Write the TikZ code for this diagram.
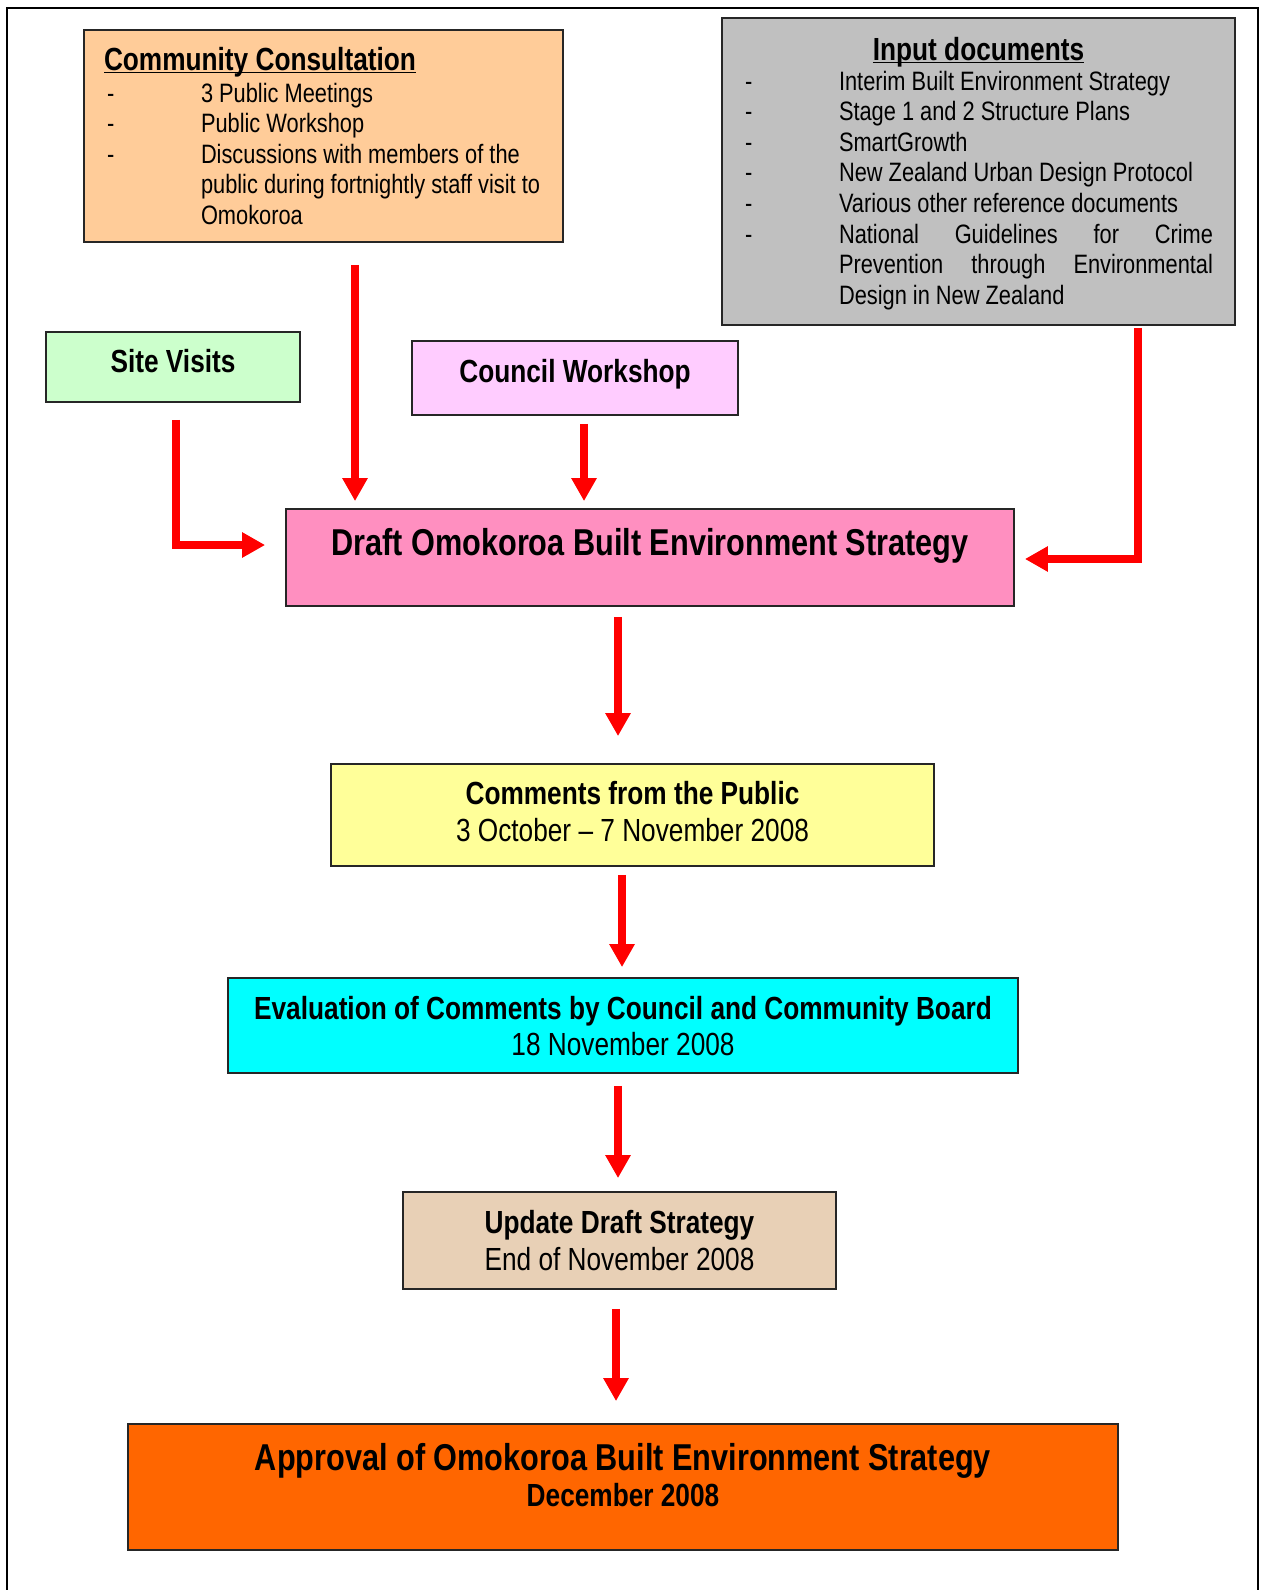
\documentclass[tikz,border=0pt]{standalone}
\usepackage{fontspec}
\setmainfont{Liberation Sans}[FakeStretch=0.82]
\usetikzlibrary{arrows.meta}

\definecolor{peach}{HTML}{FFCC99}
\definecolor{docgray}{HTML}{C0C0C0}
\definecolor{mint}{HTML}{CCFFCC}
\definecolor{lilac}{HTML}{FFCCFF}
\definecolor{rose}{HTML}{FF8FC0}
\definecolor{lemon}{HTML}{FFFF99}
\definecolor{aqua}{HTML}{00FFFF}
\definecolor{tan}{HTML}{E8D0B6}
\definecolor{orangebox}{HTML}{FF6600}

\newcommand{\ulhead}[1]{\underline{\smash{#1}}}
\newcommand{\dashitem}{\hspace*{11.5pt}\makebox[47pt][l]{-}}

\tikzset{
  box/.style={draw=black!85, line width=0.9pt, rectangle, inner sep=0pt},
  flow/.style={draw=red, line width=3.6pt, -{Triangle[width=12pt,length=11.5pt]}},
}

\begin{document}
\begin{tikzpicture}[x=0.5pt,y=-0.5pt]

  \useasboundingbox (0,0) rectangle (1262,1590);

  % page frame, open at the bottom
  \draw[line width=1pt] (7,1592) -- (7,8) -- (1258,8) -- (1258,1592);

  \node[box, fill=peach] (comm) at (323.5,136) {\parbox[c][106pt][t]{239.5pt}{\fontsize{13.3}{15.25}\selectfont
    \hspace*{10pt}\rule{0pt}{20pt}{\fontsize{16}{16}\bfseries\ulhead{Community Consultation}}\\[0.75pt]
    \dashitem 3 Public Meetings\\
    \dashitem Public Workshop\\
    \dashitem Discussions with members of the\\
    \hspace*{58.5pt}public during fortnightly staff visit to\\
    \hspace*{58.5pt}Omokoroa}};

  \node[box, fill=docgray] (input) at (978.5,171.5) {\parbox[c][153.5pt][t]{256.5pt}{\fontsize{13.3}{15.3}\selectfont
    \rule{0pt}{21pt}\makebox[256.5pt]{\fontsize{16}{16}\bfseries\ulhead{Input documents}}\\[-0.3pt]
    \dashitem Interim Built Environment Strategy\\
    \dashitem Stage 1 and 2 Structure Plans\\
    \dashitem SmartGrowth\\
    \dashitem New Zealand Urban Design Protocol\\
    \dashitem Various other reference documents\\
    \dashitem \makebox[187pt][s]{National Guidelines for Crime}\\
    \hspace*{58.5pt}\makebox[187pt][s]{Prevention through Environmental}\\
    \hspace*{58.5pt}Design in New Zealand}};

  \node[box, fill=mint] (site) at (173,367) {\parbox[c][35pt][t]{127pt}{\centering
    \fontsize{16}{18}\bfseries\rule{0pt}{20pt}Site Visits}};

  \node[box, fill=lilac] (council) at (575,378) {\parbox[c][37pt][t]{163pt}{\centering
    \fontsize{16}{18}\bfseries\rule{0pt}{20.5pt}Council Workshop}};

  \node[box, fill=rose] (draft) at (650,557.5) {\parbox[c][48.5pt][t]{364pt}{\centering
    \fontsize{18.7}{22}\bfseries\rule{0pt}{23pt}Draft Omokoroa Built Environment Strategy}};

  \node[box, fill=lemon] (comments) at (632.5,815) {\parbox[c][51pt][t]{301.5pt}{\centering
    \fontsize{16}{18.5}\selectfont\rule{0pt}{20pt}\textbf{Comments from the Public}\\
    3 October \textendash{} 7 November 2008}};

  \node[box, fill=aqua] (eval) at (623,1025.5) {\parbox[c][47.5pt][t]{395pt}{\centering
    \fontsize{16}{18}\selectfont\rule{0pt}{20.5pt}\textbf{Evaluation of Comments by Council and Community Board}\\
    18 November 2008}};

  \node[box, fill=tan] (update) at (619.5,1240.5) {\parbox[c][48.5pt][t]{216.5pt}{\centering
    \fontsize{16}{18.5}\selectfont\rule{0pt}{20.5pt}\textbf{Update Draft Strategy}\\
    End of November 2008}};

  \node[box, fill=orangebox] (approval) at (623,1487) {\parbox[c][63pt][t]{495pt}{\centering\bfseries
    \fontsize{16}{18}\selectfont\rule{0pt}{23pt}{\fontsize{18.7}{18}\selectfont Approval of Omokoroa Built Environment Strategy}\\
    December 2008}};

  % inputs into the draft
  \draw[flow, shorten <=11pt, shorten >=3.5pt] ([xshift=15.75pt]comm.south) -- ([xshift=-147.5pt]draft.north);
  \draw[flow, shorten <=4pt, shorten >=3.5pt] ([xshift=4.5pt]council.south) -- ([xshift=-33pt]draft.north);
  \draw[flow, shorten <=8.5pt, shorten >=10pt] ([xshift=1.5pt]site.south) |- ([yshift=6.25pt]draft.west);
  \draw[flow, shorten <=1pt, shorten >=5pt] ([xshift=79.75pt]input.south) |- ([yshift=-0.75pt]draft.east);

  % main sequence
  \draw[flow, shorten <=5pt, shorten >=13.5pt] ([xshift=-16pt]draft.south) -- ([xshift=-7.25pt]comments.north);
  \draw[flow, shorten <=4pt, shorten >=5pt] ([xshift=-5.25pt]comments.south) -- ([xshift=-0.5pt]eval.north);
  \draw[flow, shorten <=6pt, shorten >=6.5pt] ([xshift=-2.5pt]eval.south) -- ([xshift=-0.75pt]update.north);
  \draw[flow, shorten <=9.5pt, shorten >=11pt] ([xshift=-1.75pt]update.south) -- ([xshift=-3.5pt]approval.north);

\end{tikzpicture}
\end{document}
